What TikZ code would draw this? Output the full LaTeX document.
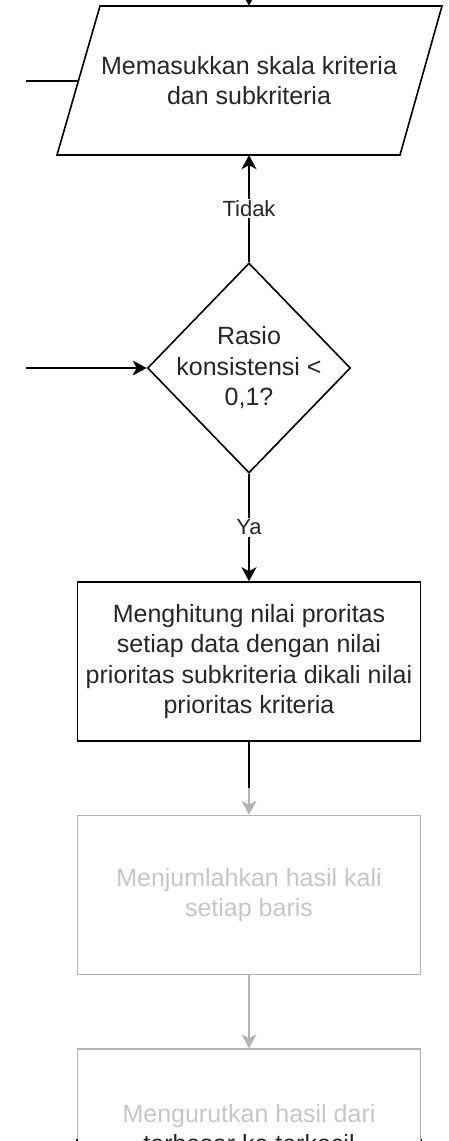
\documentclass[tikz,border=0pt]{standalone}
\usepackage{fontspec}
\setmainfont{Liberation Sans}
\usetikzlibrary{shapes.geometric,arrows.meta}

\definecolor{fadeline}{HTML}{B3B3B3}
\definecolor{fadetext}{HTML}{C6C6C6}

\begin{document}
\begin{tikzpicture}[x=1pt,y=-1pt,
  txt/.style={font=\fontsize{25}{30.5}\selectfont, text=black!85, align=center, inner sep=0pt},
  flow/.style={line width=1.6pt, draw=black},
  arr/.style={flow, -{Stealth[length=14pt,width=15pt,inset=4pt]}},
  farr/.style={arr, draw=fadeline},
  iobox/.style={txt, minimum width=300pt, minimum height=149pt},
  decision/.style={diamond, flow, minimum width=203pt, minimum height=210pt, inner sep=0pt},
  proc/.style={txt, rectangle, flow, minimum width=343pt, minimum height=159pt},
  faded/.style={proc, draw=fadeline, text=fadetext},
  lbl/.style={font=\fontsize{22}{26}\selectfont, text=black!85, fill=white, inner sep=1.5pt}
]
\useasboundingbox (0,0) rectangle (449,1141);
\clip (0,0) rectangle (449,1141);

% input step: parallelogram around a text node
\node[iobox] (inp) at (249,80.5) {Memasukkan skala kriteria\\dan subkriteria};
\draw[flow, line join=miter] (100,6) -- (442,6) -- (400,155) -- (57,155) -- cycle;
\coordinate (inpL) at (78,81);
\coordinate (inpsrc) at (26,81);
\coordinate (topin) at (249,-30);

% consistency check
\node[decision] (dec) at (249,368) {};
\node[txt] (dectext) at (dec.center) {Rasio\\konsistensi <\\0,1?};
\coordinate (decsrc) at (26,368);

% processing steps
\node[proc] (calc) at (249,661.5) {Menghitung nilai proritas\\setiap data dengan nilai\\prioritas subkriteria dikali nilai\\prioritas kriteria};
\node[faded] (sum) at (249,895) {Menjumlahkan hasil kali\\setiap baris};
\node[faded] (sort) at (249,1128.5) {Mengurutkan hasil dari\\{\color{black!85}terbesar ke terkecil}};
\coordinate (calcstub) at (249,788);

% connectors
\draw[arr] (topin) -- (inp.north);
\draw[flow] (inpsrc) -- (inpL);
\draw[arr] (dec.north) -- node[lbl] (tidak) {Tidak} (inp.south);
\draw[arr] (decsrc) -- (dec.west);
\draw[arr] (dec.south) -- node[lbl] (ya) {Ya} (calc.north);
\draw[farr] (calc.south) -- (sum.north);
\draw[flow] (calc.south) -- (calcstub);
\draw[farr] (sum.south) -- (sort.north);

% dark edges of the last box
\draw[flow] (sort.west |- 0,1139) -- (sort.south west);
\draw[flow] (sort.east |- 0,1139) -- (sort.south east);
\end{tikzpicture}
\end{document}
